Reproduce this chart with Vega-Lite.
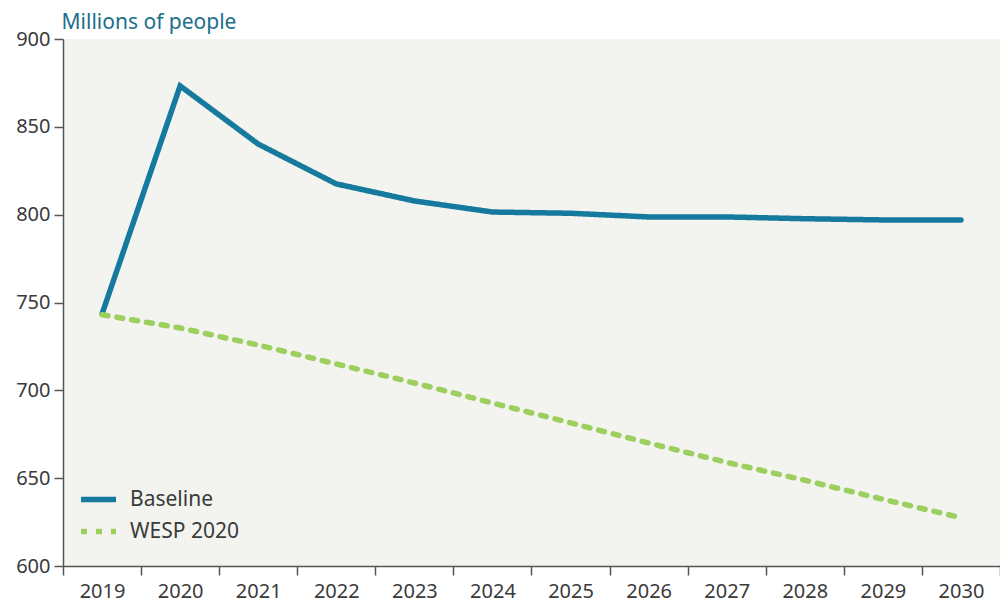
{
  "$schema": "https://vega.github.io/schema/vega-lite/v6.json",
  "width": 937,
  "height": 527,
  "autosize": {"type": "none"},
  "padding": {"left": 63, "top": 39, "right": 0, "bottom": 37},
  "background": "#ffffff",
  "config": {
    "font": "Noto Sans",
    "view": {"fill": "#f3f3ef", "stroke": null},
    "axis": {
      "domainColor": "#555555",
      "domainWidth": 1.5,
      "tickColor": "#555555",
      "tickWidth": 1.5,
      "tickSize": 9,
      "labelFontSize": 20,
      "labelColor": "#3a3a3a",
      "grid": false
    }
  },
  "data": {
    "values": [
      {"year": "2019", "series": "Baseline", "value": 743.5},
      {"year": "2020", "series": "Baseline", "value": 873.3},
      {"year": "2021", "series": "Baseline", "value": 840.2},
      {"year": "2022", "series": "Baseline", "value": 817.5},
      {"year": "2023", "series": "Baseline", "value": 807.8},
      {"year": "2024", "series": "Baseline", "value": 801.5},
      {"year": "2025", "series": "Baseline", "value": 800.8},
      {"year": "2026", "series": "Baseline", "value": 798.7},
      {"year": "2027", "series": "Baseline", "value": 798.7},
      {"year": "2028", "series": "Baseline", "value": 797.7},
      {"year": "2029", "series": "Baseline", "value": 797.0},
      {"year": "2030", "series": "Baseline", "value": 797.0},
      {"year": "2019", "series": "WESP 2020", "value": 743.0},
      {"year": "2020", "series": "WESP 2020", "value": 735.5},
      {"year": "2021", "series": "WESP 2020", "value": 725.8},
      {"year": "2022", "series": "WESP 2020", "value": 715.0},
      {"year": "2023", "series": "WESP 2020", "value": 704.2},
      {"year": "2024", "series": "WESP 2020", "value": 692.8},
      {"year": "2025", "series": "WESP 2020", "value": 681.5},
      {"year": "2026", "series": "WESP 2020", "value": 670.0},
      {"year": "2027", "series": "WESP 2020", "value": 659.0},
      {"year": "2028", "series": "WESP 2020", "value": 648.8},
      {"year": "2029", "series": "WESP 2020", "value": 638.0},
      {"year": "2030", "series": "WESP 2020", "value": 627.5}
    ]
  },
  "mark": {"type": "line", "strokeWidth": 5.5, "strokeCap": "round", "strokeJoin": "miter"},
  "encoding": {
    "x": {
      "field": "year",
      "type": "ordinal",
      "scale": {"type": "band", "paddingInner": 0, "paddingOuter": 0},
      "axis": {"title": null, "labelAngle": 0, "tickBand": "extent", "labelPadding": 6}
    },
    "y": {
      "field": "value",
      "type": "quantitative",
      "scale": {"domain": [600, 900], "nice": false},
      "axis": {
        "values": [600, 650, 700, 750, 800, 850, 900],
        "title": "Millions of people",
        "titleAngle": 0,
        "titleAlign": "left",
        "titleBaseline": "bottom",
        "titleX": -2,
        "titleY": -7,
        "titleFontSize": 21,
        "titleFontWeight": "normal",
        "titleColor": "#1b6f8c",
        "labelPadding": 4
      }
    },
    "color": {
      "field": "series",
      "type": "nominal",
      "scale": {"domain": ["Baseline", "WESP 2020"], "range": ["#167a9f", "#9ccf5e"]},
      "legend": {
        "title": null,
        "orient": "none",
        "legendX": 15,
        "legendY": 440,
        "symbolType": "stroke",
        "symbolStrokeWidth": 5.5,
        "symbolSize": 1225,
        "labelFontSize": 21,
        "labelColor": "#3a3a3a",
        "labelOffset": 11,
        "rowPadding": 0
      }
    },
    "strokeDash": {
      "field": "series",
      "type": "nominal",
      "scale": {"domain": ["Baseline", "WESP 2020"], "range": [[1, 0], [6, 9]]},
      "legend": null
    }
  }
}
